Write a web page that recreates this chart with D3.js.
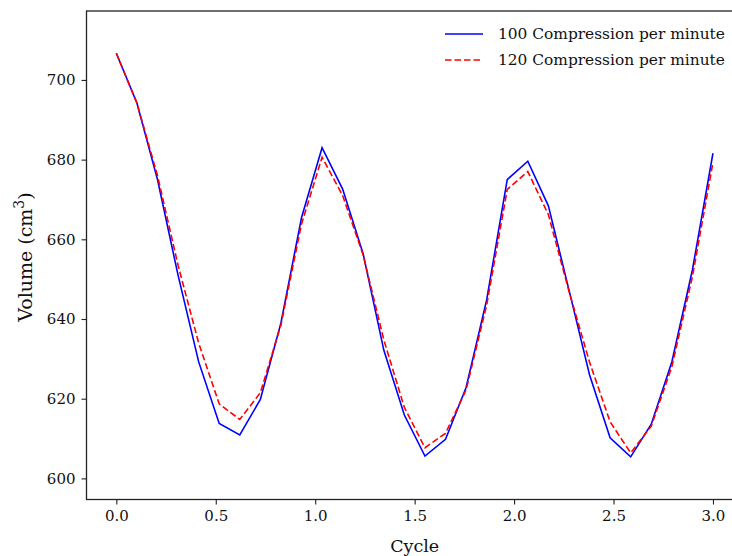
<!DOCTYPE html>
<html>
<head>
<meta charset="utf-8">
<script src="https://cdn.jsdelivr.net/npm/d3@7"></script>
<style>
  body { margin: 0; background: #fff; }
  svg { display: block; }
  text { font-family: "DejaVu Serif", serif; fill: #111; }
</style>
</head>
<body>
<svg id="chart" width="732" height="556"></svg>
<script>
// 30 samples spread evenly over 3 cycles
var cycle = d3.range(30).map(function(i) { return i * 3 / 29; });

var vol100 = [706.7, 694.2, 675.0, 651.0, 629.3, 613.8, 610.9, 619.8, 639.0, 665.4,
              683.0, 672.6, 656.3, 632.2, 615.9, 605.6, 609.8, 622.8, 644.8, 675.0,
              679.6, 668.4, 647.3, 626.0, 610.2, 605.4, 613.6, 629.2, 652.3, 681.6];

var vol120 = [706.7, 694.2, 676.0, 653.5, 634.0, 618.7, 614.8, 621.5, 638.5, 663.8,
              680.6, 671.0, 656.0, 634.8, 617.8, 607.7, 611.3, 622.2, 643.5, 672.5,
              677.0, 666.2, 647.0, 629.2, 614.2, 606.4, 613.1, 628.0, 650.6, 679.3];

var xTicks = [0, 0.5, 1, 1.5, 2, 2.5, 3];
var yTicks = [600, 620, 640, 660, 680, 700];

var series = [
  { name: "100 Compression per minute", values: vol100, color: "#0000ff", dash: null },
  { name: "120 Compression per minute", values: vol120, color: "#ff0000", dash: "6.5,3" }
];

var plotL = 86.5, plotT = 11, plotB = 499.5, plotR = 742.8;

var x = d3.scaleLinear().domain([-0.15, 3.15]).range([plotL, plotR]);
var y = d3.scaleLinear().domain([594.7, 717.3]).range([plotB, plotT]);

var svg = d3.select("#chart");

// data lines
var line = d3.line()
    .x(function(d, i) { return x(cycle[i]); })
    .y(function(d) { return y(d); });

series.forEach(function(s) {
  svg.append("path")
    .attr("d", line(s.values))
    .attr("fill", "none")
    .attr("stroke", s.color)
    .attr("stroke-width", 1.6)
    .attr("stroke-dasharray", s.dash)
    .attr("stroke-linejoin", "miter");
});

// frame
svg.append("rect")
  .attr("x", plotL).attr("y", plotT)
  .attr("width", plotR - plotL).attr("height", plotB - plotT)
  .attr("fill", "none")
  .attr("stroke", "#222")
  .attr("stroke-width", 1.3);

var xAxis = d3.axisBottom(x).tickValues(xTicks).tickSize(5).tickPadding(6)
    .tickFormat(d3.format(".1f"));
var yAxis = d3.axisLeft(y).tickValues(yTicks).tickSize(5).tickPadding(6);

var gx = svg.append("g").attr("transform", "translate(0," + plotB + ")").call(xAxis);
var gy = svg.append("g").attr("transform", "translate(" + plotL + ",0)").call(yAxis);

[gx, gy].forEach(function(g) {
  g.select(".domain").remove();
  g.selectAll(".tick line").attr("stroke", "#222").attr("stroke-width", 1.1);
  g.selectAll(".tick text").attr("font-size", 15).attr("font-family", "DejaVu Serif").attr("fill", "#111");
});

// axis labels
svg.append("text")
  .attr("x", x(1.5)).attr("y", 552)
  .attr("text-anchor", "middle")
  .attr("font-size", 17.5)
  .text("Cycle");

var yl = svg.append("text")
  .attr("transform", "translate(32,257) rotate(-90)")
  .attr("text-anchor", "middle")
  .attr("font-size", 19);
yl.append("tspan").text("Volume (cm");
yl.append("tspan").attr("dy", -8).attr("font-size", 14).text("3");
yl.append("tspan").attr("dy", 8).text(")");

// legend
var legend = svg.append("g");
series.forEach(function(s, i) {
  var ly = 34 + i * 26;
  legend.append("line")
    .attr("x1", 445).attr("x2", 483)
    .attr("y1", ly).attr("y2", ly)
    .attr("stroke", s.color)
    .attr("stroke-width", 1.6)
    .attr("stroke-dasharray", s.dash);
  legend.append("text")
    .attr("x", 498).attr("y", ly + 5)
    .attr("font-size", 15.4)
    .text(s.name);
});
</script>
</body>
</html>
